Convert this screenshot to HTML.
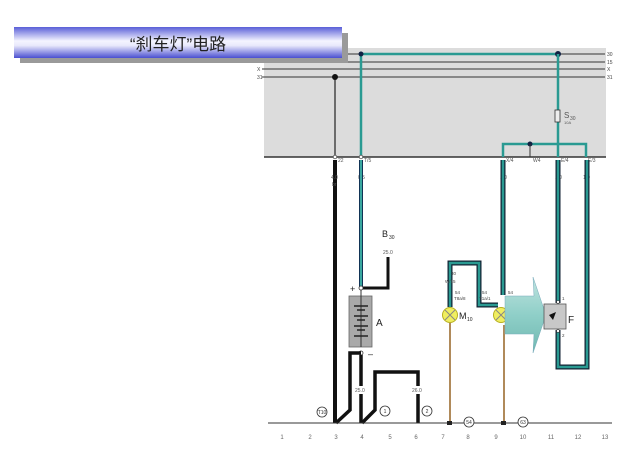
<!DOCTYPE html>
<html><head><meta charset="utf-8"><style>
html,body{margin:0;padding:0;background:#fff;width:640px;height:451px;overflow:hidden}
svg{display:block}
text{font-family:"Liberation Sans",sans-serif}
</style></head><body>
<svg width="640" height="451" viewBox="0 0 640 451">
<defs>
<linearGradient id="tg" x1="0" y1="0" x2="0" y2="1">
<stop offset="0" stop-color="#5a5fd8"/><stop offset="0.45" stop-color="#f4f4ff"/><stop offset="0.6" stop-color="#e8e8fb"/><stop offset="1" stop-color="#4a4fd0"/>
</linearGradient>
<linearGradient id="ag" x1="0" y1="0" x2="0" y2="1">
<stop offset="0" stop-color="#bfe3df"/><stop offset="0.5" stop-color="#8fcfc8"/><stop offset="1" stop-color="#6fb8b0"/>
</linearGradient>
</defs>
<!-- gray box -->
<rect x="264" y="48" width="342" height="109" fill="#dcdcdc"/>
<line x1="264" y1="157" x2="606" y2="157" stroke="#333" stroke-width="1.5"/>
<!-- title -->
<rect x="20" y="33" width="328" height="30" fill="#9a9a9a"/>
<rect x="14" y="27" width="328" height="31" fill="url(#tg)"/>
<text x="178" y="50" font-size="17" text-anchor="middle" fill="#222" font-family="Liberation Serif,Noto Serif CJK SC,serif">“刹车灯”电路</text>
<!-- bus lines -->
<g stroke="#333" stroke-width="1">
<line x1="348" y1="54" x2="605" y2="54"/>
<line x1="348" y1="62" x2="605" y2="62"/>
<line x1="262" y1="69" x2="605" y2="69"/>
<line x1="262" y1="77" x2="605" y2="77"/>
</g>
<g font-size="5" fill="#444">
<text x="607" y="56">30</text><text x="607" y="64">15</text><text x="607" y="71">X</text><text x="607" y="79">31</text>
<text x="257" y="71">X</text><text x="257" y="79">31</text>
</g>
<!-- black wire 31 -> ground -->
<line x1="335" y1="77" x2="335" y2="157" stroke="#222" stroke-width="1.2"/>
<circle cx="335" cy="77" r="3" fill="#111"/>
<line x1="335" y1="160" x2="335" y2="423" stroke="#111" stroke-width="4"/>
<!-- teal top -->
<polyline points="361,157 361,54 558,54" fill="none" stroke="#2a9a92" stroke-width="2.5"/>
<circle cx="361" cy="54" r="2.5" fill="#124"/><circle cx="558" cy="54" r="3" fill="#124"/>
<line x1="558" y1="54" x2="558" y2="157" stroke="#2a9a92" stroke-width="2.5"/>
<rect x="555" y="110" width="5" height="12" fill="#eee" stroke="#333" stroke-width="0.8"/>
<text x="564" y="118" font-size="8" fill="#555">S</text><text x="570" y="120" font-size="5" fill="#555">30</text>
<text x="564" y="124" font-size="4" fill="#555">10A</text>
<polyline points="503,157 503,144 586,144 586,157" fill="none" stroke="#2a9a92" stroke-width="2.5"/>
<circle cx="530" cy="144" r="2.5" fill="#124"/>
<line x1="530" y1="144" x2="530" y2="157" stroke="#333" stroke-width="1"/>
<g font-size="5" fill="#555">
<text x="338" y="162">22</text><text x="364" y="162">T/5</text><text x="506" y="162">X/4</text><text x="533" y="162">W4</text><text x="561" y="162">E/4</text><text x="588" y="162">E/3</text>
<text x="331" y="179">4.0</text><text x="332" y="186">br</text><text x="358" y="179">0.5</text>
<text x="500" y="179">1.0</text><text x="555" y="179">1.0</text><text x="583" y="179">1.0</text>
</g>
<circle cx="335" cy="157" r="1.8" fill="#fff" stroke="#333" stroke-width="0.7"/>
<circle cx="361" cy="157" r="1.8" fill="#fff" stroke="#333" stroke-width="0.7"/>
<!-- teal wires below box with dark outline -->
<g fill="none" stroke-linejoin="miter">
<polyline points="361,160 361,288" stroke="#135" stroke-width="4"/>
<polyline points="361,160 361,288" stroke="#3aa8a0" stroke-width="2"/>
<polyline points="503,160 503,295" stroke="#123" stroke-width="5"/>
<polyline points="503,160 503,295" stroke="#2a9a92" stroke-width="2.5"/>
<polyline points="558,160 558,303" stroke="#123" stroke-width="5"/>
<polyline points="558,160 558,303" stroke="#2a9a92" stroke-width="2.5"/>
<polyline points="558,330 558,367 587,367 587,160" stroke="#123" stroke-width="5"/>
<polyline points="558,330 558,367 587,367 587,160" stroke="#2a9a92" stroke-width="2.5"/>
<polyline points="450,307 450,263 479,263 479,305 498,305" stroke="#123" stroke-width="5"/>
<polyline points="450,307 450,263 479,263 479,305 498,305" stroke="#2a9a92" stroke-width="2.5"/>
</g>
<!-- B30 -->
<text x="382" y="237" font-size="9" fill="#222">B</text><text x="389" y="239" font-size="5" fill="#222">30</text>
<text x="383" y="254" font-size="5" fill="#555">25.0</text>
<polyline points="361,288 388,288 388,257" fill="none" stroke="#111" stroke-width="3"/>
<!-- battery -->
<rect x="349" y="296" width="23" height="51" fill="#a9a9a9" stroke="#666" stroke-width="0.8"/>
<line x1="361" y1="288" x2="361" y2="347" stroke="#333" stroke-width="1"/>
<g stroke="#222" stroke-width="1.5">
<line x1="354" y1="306" x2="368" y2="306"/><line x1="357" y1="310" x2="365" y2="310"/>
<line x1="354" y1="316" x2="368" y2="316"/><line x1="357" y1="320" x2="365" y2="320"/>
<line x1="354" y1="326" x2="368" y2="326"/><line x1="357" y1="330" x2="365" y2="330"/>
<line x1="354" y1="336" x2="368" y2="336"/>
</g>
<text x="376" y="326" font-size="10" fill="#222">A</text>
<text x="350" y="292" font-size="9" fill="#222">+</text><text x="368" y="357" font-size="9" fill="#222">–</text>
<circle cx="361" cy="288" r="2" fill="#fff" stroke="#333" stroke-width="0.8"/>
<circle cx="361" cy="353" r="2" fill="#fff" stroke="#333" stroke-width="0.8"/>
<g fill="none" stroke="#111" stroke-width="3.5">
<polyline points="361,353 350,353 350,410 336,423"/>
<line x1="361" y1="355" x2="361" y2="423"/>
<polyline points="362,423 375,410 375,372 418,372 418,423"/>
</g>
<rect x="355" y="386" width="12" height="8" fill="#fff"/><rect x="412" y="386" width="12" height="8" fill="#fff"/>
<text x="355" y="392" font-size="5" fill="#555">25.0</text><text x="412" y="392" font-size="5" fill="#555">26.0</text>
<!-- ground -->
<line x1="268" y1="423" x2="612" y2="423" stroke="#333" stroke-width="1"/>
<g fill="#fff" stroke="#333" stroke-width="0.8">
<circle cx="322" cy="412" r="5"/><circle cx="385" cy="411" r="5"/><circle cx="427" cy="411" r="5"/>
<circle cx="469" cy="422" r="5"/><circle cx="523" cy="422" r="5"/>
</g>
<g font-size="5" fill="#333" text-anchor="middle">
<text x="322" y="414">T10</text><text x="385" y="413">1</text><text x="427" y="413">2</text><text x="469" y="424">54</text><text x="523" y="424">63</text>
</g>
<g font-size="6" fill="#666" text-anchor="middle">
<text x="282" y="439">1</text><text x="310" y="439">2</text><text x="336" y="439">3</text><text x="362" y="439">4</text><text x="390" y="439">5</text><text x="416" y="439">6</text><text x="443" y="439">7</text><text x="468" y="439">8</text><text x="496" y="439">9</text><text x="523" y="439">10</text><text x="551" y="439">11</text><text x="578" y="439">12</text><text x="605" y="439">13</text>
</g>
<!-- tan lines -->
<line x1="450" y1="323" x2="450" y2="423" stroke="#b08a5a" stroke-width="2"/>
<line x1="504" y1="325" x2="504" y2="423" stroke="#b08a5a" stroke-width="2"/>
<rect x="447" y="421" width="5" height="4" fill="#222"/><rect x="501" y="421" width="5" height="4" fill="#222"/>
<!-- lamps -->
<circle cx="450" cy="315" r="7.5" fill="#f0ee60" stroke="#b8b020" stroke-width="1"/>
<path d="M445,310 L455,320 M455,310 L445,320" stroke="#888" stroke-width="1"/>
<text x="459" y="319" font-size="9" fill="#222">M</text><text x="467" y="321" font-size="5" fill="#222">10</text>
<circle cx="501" cy="315" r="7.5" fill="#f0ee60" stroke="#b8b020" stroke-width="1"/>
<path d="M496,310 L506,320 M506,310 L496,320" stroke="#888" stroke-width="1"/>
<g font-size="4.5" fill="#444">
<text x="451" y="275">30</text><text x="445" y="283">W/15</text><text x="455" y="294">54</text><text x="454" y="300">T8a/8</text>
<text x="482" y="294">54</text><text x="479" y="300">T1a/1</text><text x="508" y="294">54</text>
</g>
<!-- big arrow -->
<path d="M505,296 L534,296 L533,277 L546,315 L533,353 L534,334 L505,334 Z" fill="url(#ag)" stroke="#7ab" stroke-width="0.5"/>
<!-- F switch -->
<rect x="544" y="304" width="22" height="25" fill="#c8c8c8" stroke="#555" stroke-width="0.8"/>
<path d="M549,315 L556,312 L553,320 Z" fill="#111"/>
<circle cx="558" cy="302" r="1.5" fill="#fff" stroke="#333" stroke-width="0.6"/>
<circle cx="558" cy="331" r="1.5" fill="#fff" stroke="#333" stroke-width="0.6"/>
<text x="568" y="323" font-size="10" fill="#222">F</text>
<text x="562" y="300" font-size="4.5" fill="#444">1</text><text x="562" y="337" font-size="4.5" fill="#444">2</text>
</svg>
</body></html>
